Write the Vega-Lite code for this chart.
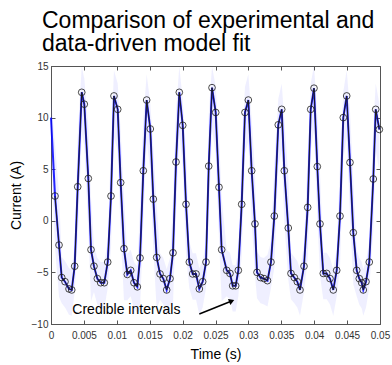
{
  "$schema": "https://vega.github.io/schema/vega-lite/v6.json",
  "width": 329,
  "height": 258,
  "autosize": "none",
  "padding": {"left": 51, "top": 66, "right": 12, "bottom": 41},
  "background": "white",
  "title": {
    "text": ["Comparison of experimental and", "data-driven model fit"],
    "anchor": "start",
    "frame": "group",
    "dx": -9,
    "offset": 5,
    "font": "Liberation Sans",
    "fontSize": 23,
    "fontWeight": "normal",
    "lineHeight": 23,
    "color": "black"
  },
  "config": {
    "view": {"stroke": "#555555", "strokeWidth": 1},
    "axis": {
      "labelFont": "Liberation Sans",
      "titleFont": "Liberation Sans",
      "labelFontSize": 10,
      "titleFontSize": 14,
      "titleFontWeight": "normal",
      "labelColor": "#333333",
      "titleColor": "black",
      "domainColor": "#555555",
      "tickColor": "#555555",
      "grid": false
    }
  },
  "datasets": {
    "series": [
      {"t": 0.0, "obs": null, "mod": 10.0, "lo": 7.0, "hi": 12.0},
      {"t": 0.00061, "obs": 2.4, "mod": 2.4, "lo": -2.6, "hi": 7.4},
      {"t": 0.00122, "obs": -2.35, "mod": -2.35, "lo": -7.35, "hi": 2.65},
      {"t": 0.00163, "obs": -5.5, "mod": -5.5, "lo": -8.0, "hi": -3.5},
      {"t": 0.00213, "obs": -5.9, "mod": -5.9, "lo": -8.4, "hi": -3.9},
      {"t": 0.00274, "obs": -6.6, "mod": -6.6, "lo": -9.1, "hi": -4.6},
      {"t": 0.00315, "obs": -6.7, "mod": -6.7, "lo": -9.2, "hi": -4.7},
      {"t": 0.0036, "obs": -4.4, "mod": -4.4, "lo": -6.9, "hi": -2.4},
      {"t": 0.00406, "obs": 3.3, "mod": 3.3, "lo": -1.7, "hi": 8.3},
      {"t": 0.00467, "obs": 12.45, "mod": 12.45, "lo": 8.45, "hi": 14.95},
      {"t": 0.00506, "obs": 11.3, "mod": 11.3, "lo": 7.3, "hi": 13.8},
      {"t": 0.00567, "obs": 4.1, "mod": 4.1, "lo": -0.9, "hi": 9.1},
      {"t": 0.00608, "obs": -2.8, "mod": -2.8, "lo": -7.8, "hi": 2.2},
      {"t": 0.00653, "obs": -4.4, "mod": -4.4, "lo": -6.9, "hi": -2.4},
      {"t": 0.00704, "obs": -5.6, "mod": -5.6, "lo": -8.1, "hi": -3.6},
      {"t": 0.00755, "obs": -6.0, "mod": -6.0, "lo": -8.5, "hi": -4.0},
      {"t": 0.0081, "obs": -6.0, "mod": -6.0, "lo": -8.5, "hi": -4.0},
      {"t": 0.00862, "obs": -4.0, "mod": -4.0, "lo": -6.5, "hi": -2.0},
      {"t": 0.00912, "obs": 2.4, "mod": 2.4, "lo": -2.6, "hi": 7.4},
      {"t": 0.00957, "obs": 12.1, "mod": 12.1, "lo": 8.1, "hi": 14.6},
      {"t": 0.01014, "obs": 10.8, "mod": 10.8, "lo": 6.8, "hi": 13.3},
      {"t": 0.01059, "obs": 3.7, "mod": 3.7, "lo": -1.3, "hi": 8.7},
      {"t": 0.01109, "obs": -2.7, "mod": -2.7, "lo": -7.7, "hi": 2.3},
      {"t": 0.0116, "obs": -5.2, "mod": -5.2, "lo": -7.7, "hi": -3.2},
      {"t": 0.01211, "obs": -4.8, "mod": -4.8, "lo": -7.3, "hi": -2.8},
      {"t": 0.01261, "obs": -6.0, "mod": -6.0, "lo": -8.5, "hi": -4.0},
      {"t": 0.01312, "obs": -6.4, "mod": -6.4, "lo": -8.9, "hi": -4.4},
      {"t": 0.01353, "obs": -3.6, "mod": -3.6, "lo": -8.6, "hi": 1.4},
      {"t": 0.01403, "obs": 4.85, "mod": 4.85, "lo": -0.15, "hi": 9.85},
      {"t": 0.01454, "obs": 11.7, "mod": 11.7, "lo": 7.7, "hi": 14.2},
      {"t": 0.01509, "obs": 8.9, "mod": 8.9, "lo": 4.9, "hi": 11.4},
      {"t": 0.01555, "obs": 2.1, "mod": 2.1, "lo": -2.9, "hi": 7.1},
      {"t": 0.01606, "obs": -3.55, "mod": -3.55, "lo": -8.55, "hi": 1.45},
      {"t": 0.01657, "obs": -5.15, "mod": -5.15, "lo": -7.65, "hi": -3.15},
      {"t": 0.01707, "obs": -5.6, "mod": -5.6, "lo": -8.1, "hi": -3.6},
      {"t": 0.01758, "obs": -6.7, "mod": -6.7, "lo": -9.2, "hi": -4.7},
      {"t": 0.01809, "obs": -5.6, "mod": -5.6, "lo": -8.1, "hi": -3.6},
      {"t": 0.01854, "obs": -3.1, "mod": -3.1, "lo": -8.1, "hi": 1.9},
      {"t": 0.019, "obs": 5.7, "mod": 5.7, "lo": 0.7, "hi": 10.7},
      {"t": 0.0195, "obs": 12.45, "mod": 12.45, "lo": 8.45, "hi": 14.95},
      {"t": 0.02002, "obs": 9.25, "mod": 9.25, "lo": 5.25, "hi": 11.75},
      {"t": 0.02052, "obs": 1.6, "mod": 1.6, "lo": -3.4, "hi": 6.6},
      {"t": 0.02102, "obs": -4.0, "mod": -4.0, "lo": -6.5, "hi": -2.0},
      {"t": 0.02153, "obs": -5.15, "mod": -5.15, "lo": -7.65, "hi": -3.15},
      {"t": 0.02204, "obs": -5.15, "mod": -5.15, "lo": -7.65, "hi": -3.15},
      {"t": 0.02254, "obs": -6.6, "mod": -6.6, "lo": -9.1, "hi": -4.6},
      {"t": 0.02305, "obs": -5.9, "mod": -5.9, "lo": -8.4, "hi": -3.9},
      {"t": 0.02356, "obs": -4.0, "mod": -4.0, "lo": -6.5, "hi": -2.0},
      {"t": 0.02397, "obs": 5.3, "mod": 5.3, "lo": 0.3, "hi": 10.3},
      {"t": 0.02447, "obs": 12.9, "mod": 12.9, "lo": 8.9, "hi": 15.0},
      {"t": 0.02503, "obs": 10.5, "mod": 10.5, "lo": 6.5, "hi": 13.0},
      {"t": 0.02553, "obs": 3.25, "mod": 3.25, "lo": -1.75, "hi": 8.25},
      {"t": 0.02594, "obs": -2.8, "mod": -2.8, "lo": -7.8, "hi": 2.2},
      {"t": 0.0267, "obs": -4.8, "mod": -4.8, "lo": -7.3, "hi": -2.8},
      {"t": 0.0272, "obs": -5.1, "mod": -5.1, "lo": -7.6, "hi": -3.1},
      {"t": 0.02761, "obs": -6.3, "mod": -6.3, "lo": -8.8, "hi": -4.3},
      {"t": 0.02807, "obs": -6.3, "mod": -6.3, "lo": -8.8, "hi": -4.3},
      {"t": 0.02847, "obs": -4.8, "mod": -4.8, "lo": -7.3, "hi": -2.8},
      {"t": 0.02898, "obs": 1.6, "mod": 1.6, "lo": -3.4, "hi": 6.6},
      {"t": 0.02948, "obs": 10.5, "mod": 10.5, "lo": 6.5, "hi": 13.0},
      {"t": 0.02999, "obs": 11.7, "mod": 11.7, "lo": 7.7, "hi": 14.2},
      {"t": 0.0305, "obs": 4.85, "mod": 4.85, "lo": -0.15, "hi": 9.85},
      {"t": 0.031, "obs": -0.3, "mod": -0.3, "lo": -5.3, "hi": 4.7},
      {"t": 0.03131, "obs": -5.0, "mod": -5.0, "lo": -7.5, "hi": -3.0},
      {"t": 0.03184, "obs": -5.5, "mod": -5.5, "lo": -8.0, "hi": -3.5},
      {"t": 0.03237, "obs": -5.6, "mod": -5.6, "lo": -8.1, "hi": -3.6},
      {"t": 0.0329, "obs": -5.8, "mod": -5.8, "lo": -8.3, "hi": -3.3},
      {"t": 0.03343, "obs": -4.0, "mod": -4.0, "lo": -6.5, "hi": -2.0},
      {"t": 0.03394, "obs": 0.46, "mod": 0.46, "lo": -4.54, "hi": 5.46},
      {"t": 0.03454, "obs": 9.3, "mod": 9.3, "lo": 5.3, "hi": 11.8},
      {"t": 0.03506, "obs": 10.8, "mod": 10.8, "lo": 6.8, "hi": 13.3},
      {"t": 0.03546, "obs": 4.85, "mod": 4.85, "lo": -0.15, "hi": 9.85},
      {"t": 0.03606, "obs": -0.7, "mod": -0.7, "lo": -5.7, "hi": 4.3},
      {"t": 0.03647, "obs": -5.1, "mod": -5.1, "lo": -7.6, "hi": -3.1},
      {"t": 0.03698, "obs": -5.5, "mod": -5.5, "lo": -8.0, "hi": -3.5},
      {"t": 0.03743, "obs": -5.9, "mod": -5.9, "lo": -8.4, "hi": -3.9},
      {"t": 0.03784, "obs": -6.7, "mod": -6.7, "lo": -9.2, "hi": -4.7},
      {"t": 0.03845, "obs": -4.4, "mod": -4.4, "lo": -6.9, "hi": -2.4},
      {"t": 0.03901, "obs": 1.3, "mod": 1.3, "lo": -3.7, "hi": 6.3},
      {"t": 0.03947, "obs": 10.8, "mod": 10.8, "lo": 6.8, "hi": 13.3},
      {"t": 0.03997, "obs": 12.85, "mod": 12.85, "lo": 8.85, "hi": 15.0},
      {"t": 0.04047, "obs": 5.25, "mod": 5.25, "lo": 0.25, "hi": 10.25},
      {"t": 0.04088, "obs": -0.3, "mod": -0.3, "lo": -5.3, "hi": 4.7},
      {"t": 0.04138, "obs": -5.1, "mod": -5.1, "lo": -7.6, "hi": -3.1},
      {"t": 0.0419, "obs": -5.1, "mod": -5.1, "lo": -7.6, "hi": -3.1},
      {"t": 0.0424, "obs": -5.6, "mod": -5.6, "lo": -8.1, "hi": -3.6},
      {"t": 0.0429, "obs": -6.7, "mod": -6.7, "lo": -9.2, "hi": -4.7},
      {"t": 0.04342, "obs": -4.8, "mod": -4.8, "lo": -7.3, "hi": -2.8},
      {"t": 0.04392, "obs": 0.46, "mod": 0.46, "lo": -4.54, "hi": 5.46},
      {"t": 0.04442, "obs": 10.0, "mod": 10.0, "lo": 6.0, "hi": 12.5},
      {"t": 0.04494, "obs": 12.1, "mod": 12.1, "lo": 8.1, "hi": 14.6},
      {"t": 0.04544, "obs": 5.65, "mod": 5.65, "lo": 0.65, "hi": 10.65},
      {"t": 0.04594, "obs": -1.15, "mod": -1.15, "lo": -6.15, "hi": 3.85},
      {"t": 0.04646, "obs": -4.8, "mod": -4.8, "lo": -7.3, "hi": -2.8},
      {"t": 0.04685, "obs": -5.6, "mod": -5.6, "lo": -8.1, "hi": -3.6},
      {"t": 0.04722, "obs": -6.0, "mod": -6.0, "lo": -8.5, "hi": -4.0},
      {"t": 0.04746, "obs": -6.7, "mod": -6.7, "lo": -9.2, "hi": -4.7},
      {"t": 0.04787, "obs": -5.9, "mod": -5.9, "lo": -8.4, "hi": -3.9},
      {"t": 0.04837, "obs": -4.0, "mod": -4.0, "lo": -6.5, "hi": -2.0},
      {"t": 0.04898, "obs": 4.05, "mod": 4.05, "lo": -0.95, "hi": 9.05},
      {"t": 0.04935, "obs": 10.8, "mod": 10.8, "lo": 6.8, "hi": 13.3},
      {"t": 0.0499, "obs": 8.85, "mod": 8.85, "lo": 4.85, "hi": 11.35}
    ],
    "label": [{"t": 0.00324, "v": -8.64, "text": "Credible intervals"}],
    "arrow": [{"t": 0.02254, "v": -9.03, "t2": 0.02746, "v2": -7.77}]
  },
  "resolve": {"axis": {"x": "independent", "y": "independent"}},
  "layer": [
    {
      "data": {"name": "series"},
      "mark": {"type": "area", "color": "#4a4aff", "opacity": 0.09},
      "encoding": {
        "x": {
          "field": "t", "type": "quantitative",
          "scale": {"domain": [0, 0.05], "nice": false, "zero": false},
          "axis": {
            "orient": "bottom", "title": "Time (s)",
            "values": [0, 0.005, 0.01, 0.015, 0.02, 0.025, 0.03, 0.035, 0.04, 0.045, 0.05],
            "format": "~g", "tickSize": -4, "labelPadding": 10, "titlePadding": 7,
            "labelFlush": false, "labelOverlap": false
          }
        },
        "y": {
          "field": "lo", "type": "quantitative",
          "scale": {"domain": [-10, 15], "nice": false, "zero": false},
          "axis": {
            "orient": "left", "title": "Current (A)",
            "values": [-10, -5, 0, 5, 10, 15],
            "tickSize": -4, "labelPadding": 7, "titlePadding": 8,
            "labelFlush": false, "labelOverlap": false
          }
        },
        "y2": {"field": "hi"}
      }
    },
    {
      "data": {"name": "series"},
      "mark": {"type": "line", "color": "#0000ff", "strokeWidth": 2, "opacity": 0.85},
      "encoding": {
        "x": {"field": "t", "type": "quantitative", "axis": {
          "orient": "top", "labels": false, "title": null, "domain": false,
          "values": [0, 0.005, 0.01, 0.015, 0.02, 0.025, 0.03, 0.035, 0.04, 0.045, 0.05],
          "tickSize": -4}},
        "y": {"field": "mod", "type": "quantitative", "axis": {
          "orient": "right", "labels": false, "title": null, "domain": false,
          "values": [-10, -5, 0, 5, 10, 15], "tickSize": -4}}
      }
    },
    {
      "data": {"name": "series"},
      "mark": {"type": "line", "color": "#1a1a1a", "strokeWidth": 1},
      "encoding": {
        "x": {"field": "t", "type": "quantitative", "axis": null},
        "y": {"field": "obs", "type": "quantitative", "axis": null}
      }
    },
    {
      "data": {"name": "series"},
      "mark": {"type": "point", "shape": "circle", "filled": false, "color": "#1a1a1a", "size": 45, "strokeWidth": 0.8, "opacity": 1},
      "encoding": {
        "x": {"field": "t", "type": "quantitative", "axis": null},
        "y": {"field": "obs", "type": "quantitative", "axis": null}
      }
    },
    {
      "data": {"name": "label"},
      "mark": {"type": "text", "align": "left", "baseline": "middle", "font": "Liberation Sans", "fontSize": 14, "color": "black"},
      "encoding": {
        "x": {"field": "t", "type": "quantitative", "axis": null},
        "y": {"field": "v", "type": "quantitative", "axis": null},
        "text": {"field": "text"}
      }
    },
    {
      "data": {"name": "arrow"},
      "mark": {"type": "rule", "color": "black", "strokeWidth": 1.5},
      "encoding": {
        "x": {"field": "t", "type": "quantitative", "axis": null},
        "y": {"field": "v", "type": "quantitative", "axis": null},
        "x2": {"field": "t2"},
        "y2": {"field": "v2"}
      }
    },
    {
      "data": {"name": "arrow"},
      "mark": {"type": "point", "shape": "triangle-right", "filled": true, "color": "black", "size": 40, "angle": -22, "opacity": 1},
      "encoding": {
        "x": {"field": "t2", "type": "quantitative", "axis": null},
        "y": {"field": "v2", "type": "quantitative", "axis": null}
      }
    }
  ]
}
